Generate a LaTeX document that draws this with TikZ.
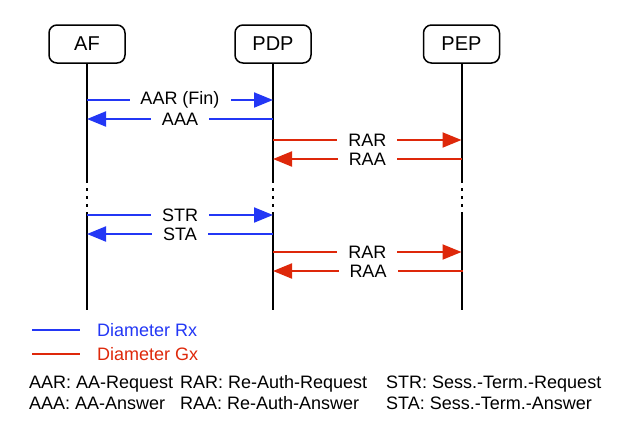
\documentclass[tikz,border=0pt]{standalone}
\usepackage{fontspec}
\setmainfont{Liberation Sans}
\usetikzlibrary{arrows.meta}
\definecolor{rxblue}{RGB}{35,55,245}
\definecolor{gxred}{RGB}{222,40,10}
\begin{document}
\begin{tikzpicture}[x=1pt,y=-1pt,
  entity/.style={draw=black,line width=1.5pt,rounded corners=8pt,minimum width=76pt,minimum height=38pt,inner sep=0pt,font=\fontsize{20}{23}\selectfont},
  lifeline/.style={line width=2pt,black},
  dotline/.style={line width=2pt,black,dash pattern=on 3pt off 5pt},
  msg/.style={line width=2pt,-{Triangle[length=19pt,width=15pt]}},
  rx/.style={msg,rxblue},
  gx/.style={msg,gxred},
  lbl/.style={fill=white,text=black,inner xsep=11pt,inner ysep=1pt,font=\fontsize{18}{20}\selectfont},
  legtxt/.style={font=\fontsize{18}{20}\selectfont,inner sep=0pt,anchor=base west}
]
\useasboundingbox (0,0) rectangle (636,434);

\node[entity] (af)  at (87,44)  {AF};
\node[entity] (pdp) at (273,44) {PDP};
\node[entity] (pep) at (461.5,44) {PEP};

% lifeline breakpoints
\foreach \n/\x in {af/87,pdp/273,pep/461.5}{
  \coordinate (\n-a) at (\x,180);
  \coordinate (\n-b) at (\x,213);
  \coordinate (\n-c) at (\x,310);
  \draw[lifeline] (\n.south) -- (\n-a);
  \draw[dotline] (\n-a) -- (\n-b);
  \draw[lifeline] (\n-b) -- (\n-c);
}

% message endpoints
\coordinate (af1) at (87,100);   \coordinate (pdp1) at (273,100);
\coordinate (af2) at (87,119);   \coordinate (pdp2) at (273,119);
\coordinate (pdp3) at (273,140); \coordinate (pep3) at (461.5,140);
\coordinate (pdp4) at (273,159); \coordinate (pep4) at (461.5,159);
\coordinate (af5) at (87,215);   \coordinate (pdp5) at (273,215);
\coordinate (af6) at (87,234);   \coordinate (pdp6) at (273,234);
\coordinate (pdp7) at (273,252); \coordinate (pep7) at (461.5,252);
\coordinate (pdp8) at (273,271); \coordinate (pep8) at (463,271);

\draw[rx] (af1) -- node[lbl] {AAR (Fin)} (pdp1);
\draw[rx] (pdp2) -- node[lbl] {AAA} (af2);
\draw[gx] (pdp3) -- node[lbl] {RAR} (pep3);
\draw[gx] (pep4) -- node[lbl] {RAA} (pdp4);
\draw[rx] (af5) -- node[lbl] {STR} (pdp5);
\draw[rx] (pdp6) -- node[lbl] {STA} (af6);
\draw[gx] (pdp7) -- node[lbl] {RAR} (pep7);
\draw[gx] (pep8) -- node[lbl] {RAA} (pdp8);

% legend
\coordinate (lb1) at (32,330); \coordinate (lb2) at (80,330);
\coordinate (lr1) at (32,354); \coordinate (lr2) at (80,354);
\draw[line width=2pt,rxblue] (lb1) -- (lb2);
\draw[line width=2pt,gxred] (lr1) -- (lr2);
\node[legtxt,text=rxblue] (rxt) at (97,336.5) {Diameter Rx};
\node[legtxt,text=gxred] (gxt) at (97,360.5) {Diameter Gx};

\node[legtxt] (k1) at (29,388) {AAR: AA-Request};
\node[legtxt] (k2) at (180,388) {RAR: Re-Auth-Request};
\node[legtxt] (k3) at (386,388) {STR: Sess.-Term.-Request};
\node[legtxt] (k4) at (29,409) {AAA: AA-Answer};
\node[legtxt] (k5) at (180,409) {RAA: Re-Auth-Answer};
\node[legtxt] (k6) at (386,409) {STA: Sess.-Term.-Answer};
\end{tikzpicture}
\end{document}
